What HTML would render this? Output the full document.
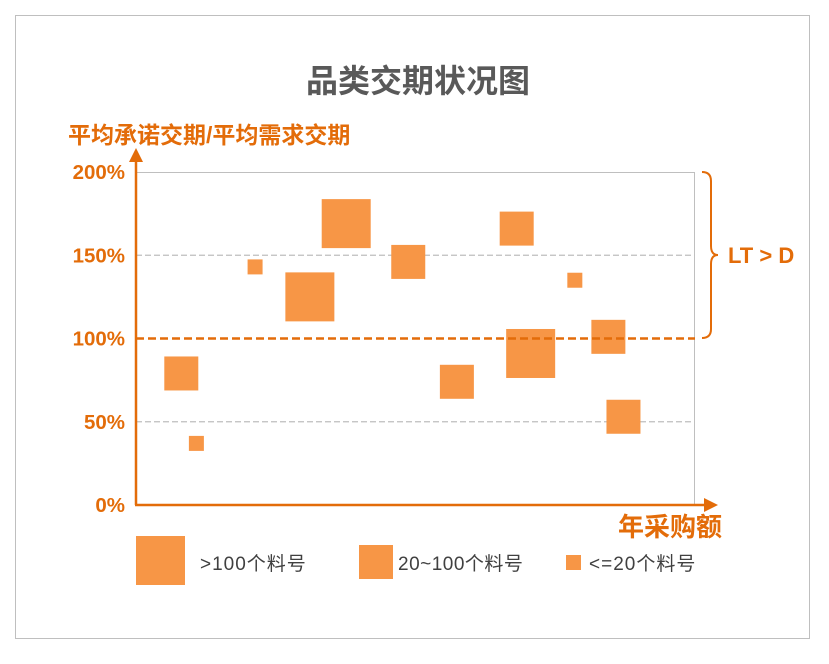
<!DOCTYPE html>
<html><head><meta charset="utf-8">
<style>
body{margin:0;background:#fff;width:829px;height:659px;overflow:hidden;font-family:"Liberation Sans","Noto Sans CJK SC",sans-serif}
</style></head>
<body>
<svg id="chart" width="829" height="659" xmlns="http://www.w3.org/2000/svg" font-family="'Liberation Sans','Noto Sans CJK SC',sans-serif">
<rect x="15.5" y="15.5" width="794" height="623" fill="#fff" stroke="#bfbfbf"/>
<text x="418" y="92" text-anchor="middle" font-size="32" font-weight="bold" fill="#595959">品类交期状况图</text>
<text x="68" y="143" font-size="23" font-weight="bold" fill="#e36c09">平均承诺交期/平均需求交期</text>
<text x="722" y="536" text-anchor="end" font-size="26" font-weight="bold" fill="#e36c09">年采购额</text>
<rect x="136.5" y="172.5" width="558" height="332" fill="none" stroke="#bfbfbf"/>
<g id="grid"></g>
<g id="yticks"></g>
<g id="marks"></g>
<line id="ref100" x1="136" x2="695" stroke="#e36c09" stroke-width="2.5" stroke-dasharray="8,4"/>
<line x1="136" y1="505" x2="136" y2="160" stroke="#e36c09" stroke-width="2.5"/>
<polygon points="129,162 143,162 136,148" fill="#e36c09"/>
<line x1="135" y1="505" x2="706" y2="505" stroke="#e36c09" stroke-width="2.5"/>
<polygon points="704,498 704,512 718,505" fill="#e36c09"/>
<path d="M702,172 Q711,172 711,181 L711,246 Q711,255 718,255 Q711,255 711,264 L711,329 Q711,338 702,338" fill="none" stroke="#e36c09" stroke-width="2"/>
<text x="728" y="263" font-size="22" font-weight="bold" fill="#e36c09">LT &gt; D</text>
<g>
<rect x="136" y="536" width="49" height="49" fill="#f79646"/>
<text x="200" y="570" font-size="19" letter-spacing="1" fill="#404040">&gt;100个料号</text>
<rect x="359" y="545" width="34" height="34" fill="#f79646"/>
<text x="398" y="570" font-size="19" letter-spacing="0.5" fill="#404040">20~100个料号</text>
<rect x="566" y="555" width="15" height="15" fill="#f79646"/>
<text x="589" y="570" font-size="19" letter-spacing="1" fill="#404040">&lt;=20个料号</text>
</g>
</svg>
<script>
const xValues=[8103,10803,21303,31103,37603,48703,57403,68103,70603,78503,84503,87203].map(v=>v/1000);
const yValues=[79,37,143,125,169,146,74,166,91,135,101,53];
const sizeClass=[2,1,1,3,3,2,2,2,3,1,2,2];
const yTicks=[0,50,100,150,200];
const yTickLabels=["0%","50%","100%","150%","200%"];
const NS="http://www.w3.org/2000/svg";
const X0=136,X1=695,Y0=505,Y1=172;
function xs(v){return X0+v/100*(X1-X0);}
function ys(v){return Y0-v/200*(Y0-Y1);}
const px={1:15,2:34,3:49};
const grid=document.getElementById('grid'),yt=document.getElementById('yticks'),marks=document.getElementById('marks');
yTicks.forEach((t,i)=>{
  if(t===50||t===150){
    const l=document.createElementNS(NS,'line');
    
    
    l.setAttribute('x1',X0);l.setAttribute('x2',X1);l.setAttribute('y1',ys(t));l.setAttribute('y2',ys(t));
    l.setAttribute('stroke','#bfbfbf');l.setAttribute('stroke-dasharray','6,3');l.setAttribute('stroke-width','1.3');
    grid.appendChild(l);
  }
  const tx=document.createElementNS(NS,'text');
  
  
  tx.setAttribute('x',125);tx.setAttribute('y',ys(t)+7);tx.setAttribute('text-anchor','end');
  tx.setAttribute('font-size','20.5');tx.setAttribute('font-weight','bold');tx.setAttribute('fill','#e36c09');
  tx.textContent=yTickLabels[i];yt.appendChild(tx);
});
const r=document.getElementById('ref100');r.setAttribute('y1',ys(100));r.setAttribute('y2',ys(100));
xValues.forEach((xv,i)=>{
  const s=px[sizeClass[i]];
  const q=document.createElementNS(NS,'rect');
  
  
  q.setAttribute('x',xs(xv)-s/2);q.setAttribute('y',ys(yValues[i])-s/2);
  q.setAttribute('width',s);q.setAttribute('height',s);q.setAttribute('fill','#f79646');
  marks.appendChild(q);
});
</script>
</body></html>
